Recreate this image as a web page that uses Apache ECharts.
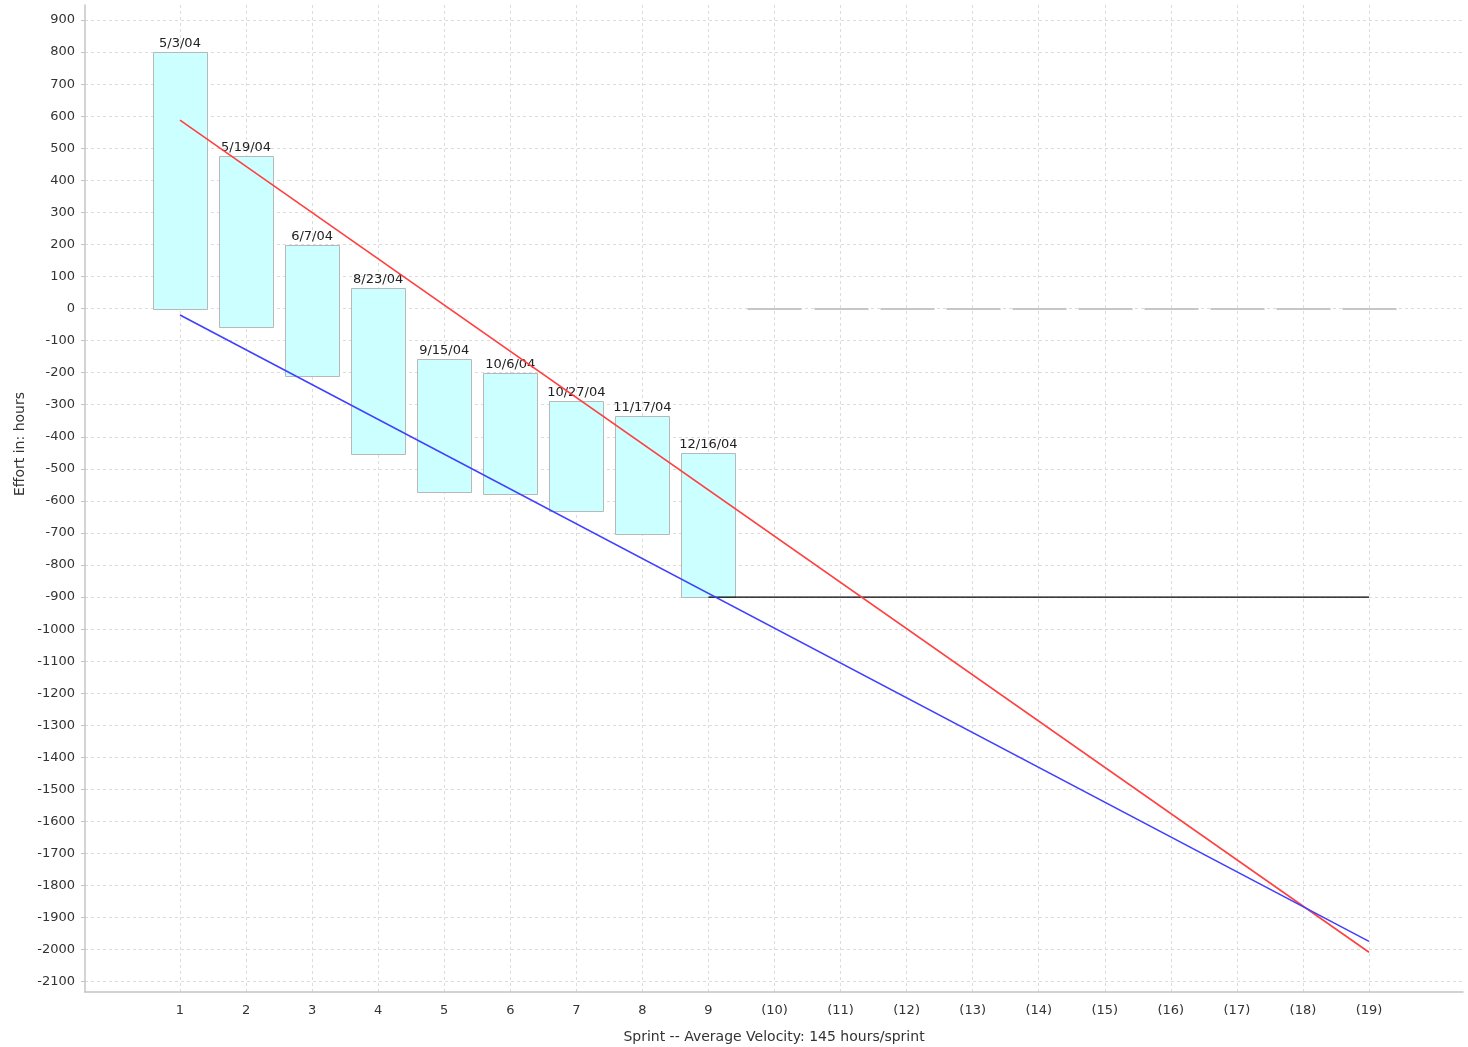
<!DOCTYPE html>
<html>
<head>
<meta charset="utf-8">
<script src="https://cdn.jsdelivr.net/npm/echarts@6/dist/echarts.min.js"></script>
<style>
html,body{margin:0;padding:0;background:#fff;overflow:hidden;}
#chart{width:1468px;height:1047px;}
</style>
</head>
<body>
<div id="chart"></div>
<script>
// ---- data ----
const sprints = [1,2,3,4,5,6,7,8,9,10,11,12,13,14,15,16,17,18,19];
const sprintLabels = ['1','2','3','4','5','6','7','8','9','(10)','(11)','(12)','(13)','(14)','(15)','(16)','(17)','(18)','(19)'];
const barTops    = [800, 477, 197, 63, -158, -202, -288, -335, -451, 0,0,0,0,0,0,0,0,0,0];
const barBottoms = [0, -56, -210, -453, -573, -577, -630, -703, -900, 0,0,0,0,0,0,0,0,0,0];
const dateLabels = ['5/3/04','5/19/04','6/7/04','8/23/04','9/15/04','10/6/04','10/27/04','11/17/04','12/16/04','','','','','','','','','',''];
const redLine   = [[1, 588], [19, -2008]];
const blueLine  = [[1, -20], [19, -1974]];
const blackLine = [[9, -900], [19, -900]];
const yTicks = [-2100,-2000,-1900,-1800,-1700,-1600,-1500,-1400,-1300,-1200,-1100,-1000,-900,-800,-700,-600,-500,-400,-300,-200,-100,0,100,200,300,400,500,600,700,800,900];

const FONT = 'DejaVu Sans';
const chart = echarts.init(document.getElementById('chart'));

const barData = sprints.map((s, i) => [s, barBottoms[i], barTops[i]]);

function renderBar(params, api) {
  const x = api.value(0), lo = api.value(1), hi = api.value(2);
  const label = dateLabels[params.dataIndex];
  const pTop = api.coord([x, hi]);
  const pBot = api.coord([x, lo]);
  const w = Math.round(api.size([1, 0])[0] * 0.818);
  const left = Math.round(pTop[0] - w / 2) + 0.5;
  const top = Math.round(pTop[1]) + 0.5;
  const bot = Math.round(pBot[1]) + 0.5;
  const children = [];
  if (bot - top < 0.5) {
    children.push({type:'line', shape:{x1:left, y1:top - 0.5, x2:left + w, y2:top - 0.5},
      style:{stroke:'#c6c6c6', lineWidth:2}});
  } else {
    children.push({type:'rect', shape:{x:left, y:top, width:w, height:bot - top},
      style:{fill:'#ccffff', stroke:'#b8b8b8', lineWidth:1}});
  }
  if (label) {
    children.push({type:'text', x: pTop[0], y: top - 2,
      style:{text: label, textAlign:'center', textVerticalAlign:'bottom',
             font: '13px "' + FONT + '"', fill:'#222'}});
  }
  return {type:'group', children};
}

const gridLineStyle = {color: '#dcdcdc', type: [3, 3], width: 1};

const option = {
  animation: false,
  backgroundColor: '#ffffff',
  grid: {left: 85, right: 5, top: 5, bottom: 55, containLabel: false, outerBoundsMode: 'none'},
  graphic: [{
    type: 'text', x: 20, y: 444, rotation: Math.PI / 2,
    style: {text: 'Effort in: hours', textAlign: 'center', textVerticalAlign: 'middle',
            font: '14px "' + FONT + '"', fill: '#333'}
  }],
  xAxis: {
    type: 'value', min: -0.438, max: 20.423,
    name: 'Sprint -- Average Velocity: 145 hours/sprint',
    nameLocation: 'middle', nameGap: 38,
    nameTextStyle: {fontFamily: FONT, fontSize: 14, color: '#333'},
    axisLine: {show: true, onZero: false, lineStyle: {color: '#c4c4c4', width: 1.5}},
    axisTick: {show: false},
    axisLabel: {
      margin: 12, fontFamily: FONT, fontSize: 13, color: '#333',
      customValues: sprints,
      formatter: v => sprintLabels[sprints.indexOf(Math.round(v))] || ''
    },
    splitLine: {show: false}
  },
  yAxis: {
    type: 'value', min: -2132, max: 947,
    axisLine: {show: true, onZero: false, lineStyle: {color: '#c4c4c4', width: 1.5}},
    axisTick: {show: true, length: 4, customValues: yTicks, lineStyle: {color: '#c4c4c4'}},
    axisLabel: {margin: 10, fontFamily: FONT, fontSize: 13, color: '#333',
      customValues: yTicks, formatter: v => String(Math.round(v))},
    splitLine: {show: false}
  },
  series: [
    {
      type: 'line', data: [], z: 0, silent: true,
      markLine: {
        z: 0, silent: true, symbol: ['none', 'none'], animation: false,
        label: {show: false},
        lineStyle: gridLineStyle,
        data: sprints.map(s => ({xAxis: s})).concat(yTicks.map(t => ({yAxis: t})))
      }
    },
    {
      type: 'custom', z: 2, data: barData, renderItem: renderBar,
      encode: {x: 0, y: [1, 2]}, silent: true
    },
    {type:'line', z: 3, data: blackLine, symbol:'none', lineStyle:{color:'#000000', width:1.2}, silent:true},
    {type:'line', z: 4, data: redLine, symbol:'none', lineStyle:{color:'#ff4040', width:1.6}, silent:true},
    {type:'line', z: 4, data: blueLine, symbol:'none', lineStyle:{color:'#4040ff', width:1.6}, silent:true}
  ]
};
chart.setOption(option);
</script>
</body>
</html>
